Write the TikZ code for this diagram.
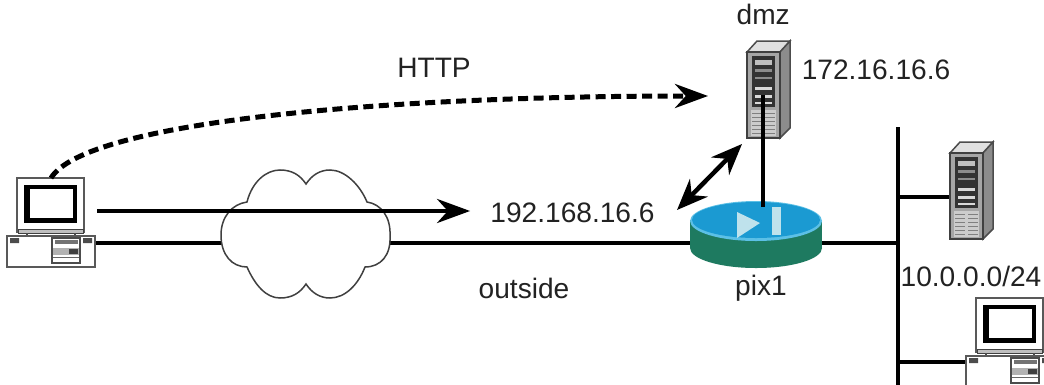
\documentclass[tikz,border=0pt]{standalone}
\usepackage{fontspec}
\setmainfont{Liberation Sans}
\usetikzlibrary{arrows.meta,positioning}
\definecolor{pixblue}{HTML}{1B9AD2}
\definecolor{pixrim}{HTML}{5CC0E6}
\definecolor{pixgreen}{HTML}{1E7A60}
\definecolor{pixmark}{HTML}{BFE2EC}
\definecolor{labelgray}{HTML}{222222}
\tikzset{
  netline/.style = {line width = 0.09cm, black},
  bigarrow/.style = {netline, -{Stealth[length = 0.66cm, width = 0.48cm]}},
  bothways/.style = {netline, {Stealth[length = 0.62cm, width = 0.5cm]}-{Stealth[length = 0.62cm, width = 0.5cm]}},
  iconbox/.style = {shape = rectangle, inner sep = 0pt, outer sep = 0pt},
  netlabel/.style = {shape = rectangle, inner sep = 0pt, text = labelgray, font = \fontsize{16}{18}\selectfont},
  pcicon/.pic = {
    \draw[fill = white, draw = black!65, line width = 0.03cm] (10,0) rectangle (77,54);
    \fill[black] (17,7) rectangle (70,45);
    \fill[white] (23,11) rectangle (66,40);
    \draw[fill = black!25, draw = black!75, line width = 0.02cm] (11,51) rectangle (76,55);
    \draw[black!70, line width = 0.04cm] (20,55) -- (20,58) (68,55) -- (68,58);
    \draw[fill = white, draw = black!65, line width = 0.04cm] (0,58) rectangle (88,89);
    \fill[black!70] (3,60) rectangle (12,65) (76,60) rectangle (85,65);
    \draw[fill = white, draw = black!70, line width = 0.03cm] (45,60) rectangle (73,85);
    \fill[black!55] (48,62) rectangle (71,66);
    \fill[black!30] (46,70) rectangle (72,77);
    \fill[black!75] (62,71) rectangle (71,76);
    \draw[black!60, line width = 0.02cm] (46,79) -- (72,79);
  },
  servericon/.pic = {
    \draw[fill = black!12, draw = black!70, line width = 0.03cm] (0,11) -- (10,0) -- (43,0) -- (33,11) -- cycle;
    \draw[fill = black!45, draw = black!70, line width = 0.03cm] (33,11) -- (43,0) -- (43,87) -- (33,97) -- cycle;
    \draw[fill = black!35, draw = black!75, line width = 0.03cm] (0,11) rectangle (33,97);
    \fill[black!80] (5,15) rectangle (28,66);
    \fill[black!25] (8,19) rectangle (25,24);
    \fill[black!45] (8,28) rectangle (25,31);
    \fill[black!45] (8,36) rectangle (25,38);
    \fill[black!15] (8,46) rectangle (25,49);
    \fill[black!15] (8,54) rectangle (25,57);
    \fill[black!15] (8,61) rectangle (25,63);
    \fill[black!20] (4,69) rectangle (29,95);
    \foreach \gy in {72,76,80,84,88,92} {
      \draw[black!50, line width = 0.02cm] (5,\gy) -- (15,\gy) (18,\gy) -- (28,\gy);
    }
  },
  pixicon/.pic = {
    \fill[pixgreen] (66,48) ellipse (66 and 20);
    \fill[pixgreen] (0,20) rectangle (132,48);
    \fill[pixrim] (66,21) ellipse (66 and 20);
    \fill[pixblue] (66,20) ellipse (64 and 18);
    \fill[pixmark] (47,12) -- (70,23) -- (47,38) -- cycle;
    \fill[pixmark] (82,7) rectangle (91,35);
  }
}

\begin{document}
\begin{tikzpicture}[x = 0.02cm, y = -0.02cm]
\path[use as bounding box, clip] (0,0) rectangle (1044,385);
\fill[white] (0,0) rectangle (1044,385);

\node[iconbox, minimum width = 1.76cm, minimum height = 1.78cm] (pc1) at (51,222.5) {};
\node[iconbox, minimum width = 1.76cm, minimum height = 1.78cm] (pc2) at (1010,342.5) {};
\node[iconbox, minimum width = 0.86cm, minimum height = 1.94cm] (dmz) at (768.5,89.5) {};
\node[iconbox, minimum width = 0.86cm, minimum height = 1.94cm] (server2) at (971.5,190.5) {};
\node[iconbox, minimum width = 2.64cm, minimum height = 1.40cm] (pix1) at (756,235) {};
\node[iconbox, minimum width = 3.38cm, minimum height = 1cm] (cloud) at (305.5,243) {};

\coordinate (bustop) at (898,127);
\coordinate (busbot) at (898,385);
\coordinate (srvtap) at (898,197);
\coordinate (pctap) at (898,362);
\coordinate (dmzport) at (763,95);
\coordinate (linkstart) at (97,211);
\coordinate (httpend) at (708,96);
\coordinate (bistart) at (677,210);
\coordinate (biend) at (742,144);

\node[netlabel] (httplabel) at (434,68) {HTTP};
\node[netlabel] (outsideip) at (572.5,213) {192.168.16.6};
\node[netlabel] (outsidelabel) at (524,288) {outside};
\node[netlabel, above = 9pt of dmz, xshift = -3pt] (dmzlabel) {dmz};
\node[netlabel] (dmzip) at (876,70) {172.16.16.6};
\node[netlabel] (pixlabel) at (761,288) {pix1};
\node[netlabel] (lanlabel) at (971,276) {10.0.0.0/24};

\draw[netline] (pc1.east |- cloud.west) -- (cloud.west);
\draw[netline] (cloud.east) -- (cloud.east -| pix1.west);
\draw[fill = white, draw = black!75, line width = 0.03cm]
  (247,202) .. controls (252,182) and (266,170) .. (280,170)
  .. controls (292,170) and (300,175) .. (306,184)
  .. controls (312,175) and (320,170) .. (330,170)
  .. controls (345,170) and (360,185) .. (367,202)
  .. controls (381,204) and (391,217) .. (390,236)
  .. controls (391,255) and (381,267) .. (365,267)
  .. controls (358,285) and (345,298) .. (330,298)
  .. controls (320,298) and (312,293) .. (306,284)
  .. controls (300,293) and (292,298) .. (280,298)
  .. controls (266,298) and (255,285) .. (247,267)
  .. controls (232,267) and (221,255) .. (221,235)
  .. controls (221,217) and (232,204) .. (247,202) -- cycle;

\draw[netline] (bustop) -- (busbot);
\draw[netline] (pix1.east |- cloud.east) -- (bustop |- cloud.east);
\draw[netline] (srvtap) -- (srvtap -| server2.west);
\draw[netline] (pctap) -- (pctap -| pc2.west);

\pic at (pc1.north west) {pcicon};
\pic at (pc2.north west) {pcicon};
\pic at (dmz.north west) {servericon};
\pic at (server2.north west) {servericon};
\pic at (pix1.north west) {pixicon};

\draw[netline, shorten > = -0.14cm] (dmzport) -- (dmzport |- pix1.north);
\draw[bigarrow, line width = 0.1cm, dash pattern = on 0.2cm off 0.11cm]
  (pc1.north) .. controls (85,122) and (380,96) .. (httpend);
\draw[bigarrow, shorten > = 0.4cm] (linkstart) -- (linkstart -| outsideip.west);
\draw[bothways] (bistart) -- (biend);
\end{tikzpicture}
\end{document}
